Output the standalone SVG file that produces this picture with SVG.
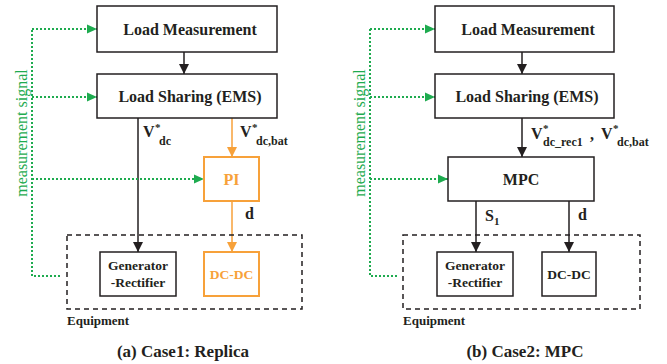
<svg xmlns="http://www.w3.org/2000/svg" width="667" height="364" viewBox="0 0 667 364" font-family="'Liberation Serif','Times New Roman',serif">
<defs>
<style>
text{font-family:"Liberation Serif","Times New Roman",serif;font-weight:bold;fill:#231f20}
.box{fill:#fff;stroke:#231f20;stroke-width:1.5}
.obox{fill:#fff;stroke:#f7a13a;stroke-width:2}
.eq{fill:none;stroke:#231f20;stroke-width:1.5;stroke-dasharray:5,4}
.blk{fill:none;stroke:#231f20;stroke-width:1.5}
.org{fill:none;stroke:#f7a13a;stroke-width:1.5}
.grn{fill:none;stroke:#1eab4f;stroke-width:2;stroke-dasharray:2,2}
.t16{font-size:16px}
.t13{font-size:13.5px}
.orgt{fill:#f7a13a}
.sig{font-weight:normal;fill:#1eab4f;font-size:16px}
</style>
<marker id="ab" markerUnits="userSpaceOnUse" markerWidth="10" markerHeight="10" refX="10" refY="5" orient="auto"><path d="M0,0 L10,5 L0,10 z" fill="#231f20"/></marker>
<marker id="ao" markerUnits="userSpaceOnUse" markerWidth="10" markerHeight="10" refX="10" refY="5" orient="auto"><path d="M0,0 L10,5 L0,10 z" fill="#f7a13a"/></marker>
<marker id="ag" markerUnits="userSpaceOnUse" markerWidth="10" markerHeight="10" refX="10" refY="5" orient="auto"><path d="M0,0.5 L10,5 L0,9.5 z" fill="#1eab4f"/></marker>
</defs>

<g id="connectors">
<line class="blk" x1="184" y1="52" x2="184" y2="74" marker-end="url(#ab)"/>
<line class="blk" x1="138" y1="118" x2="138" y2="252" marker-end="url(#ab)"/>
<line class="org" x1="232" y1="118" x2="232" y2="157" marker-end="url(#ao)"/>
<line class="org" x1="232" y1="201" x2="232" y2="252" marker-end="url(#ao)"/>
<polyline class="grn" points="60,276 32,276 32,29"/>
<line class="grn" x1="32" y1="29" x2="97" y2="29" marker-end="url(#ag)"/>
<line class="grn" x1="32" y1="97" x2="97" y2="97" marker-end="url(#ag)"/>
<line class="grn" x1="32" y1="179" x2="204" y2="179" marker-end="url(#ag)"/>
<line class="blk" x1="522" y1="52" x2="522" y2="74" marker-end="url(#ab)"/>
<line class="blk" x1="522" y1="118" x2="522" y2="157" marker-end="url(#ab)"/>
<line class="blk" x1="476" y1="201" x2="476" y2="252" marker-end="url(#ab)"/>
<line class="blk" x1="569" y1="201" x2="569" y2="252" marker-end="url(#ab)"/>
<polyline class="grn" points="397,276 370,276 370,29"/>
<line class="grn" x1="370" y1="29" x2="435" y2="29" marker-end="url(#ag)"/>
<line class="grn" x1="370" y1="97" x2="435" y2="97" marker-end="url(#ag)"/>
<line class="grn" x1="370" y1="179" x2="448" y2="179" marker-end="url(#ag)"/>
</g>

<g id="labels">
<text class="sig" transform="translate(27,133) rotate(-90)" text-anchor="middle">measurement signal</text>
<text class="sig" transform="translate(365,133) rotate(-90)" text-anchor="middle">measurement signal</text>
<text class="t16" x="143" y="137">V</text>
<text x="155" y="131" font-size="11">*</text>
<text x="159" y="145" font-size="12">dc</text>
<text class="t16" x="240" y="137">V</text>
<text x="252" y="131" font-size="11">*</text>
<text x="256" y="145" font-size="12">dc,bat</text>
<text class="t16" x="245" y="219">d</text>
<text class="t16" x="531" y="139">V</text>
<text x="543" y="132" font-size="11">*</text>
<text x="543" y="146" font-size="12">dc_rec1</text>
<text class="t16" x="590" y="140">,</text>
<text class="t16" x="601" y="139">V</text>
<text x="613" y="132" font-size="11">*</text>
<text x="617" y="146" font-size="12">dc,bat</text>
<text class="t16" x="485" y="221">S</text>
<text x="494" y="225" font-size="11">1</text>
<text class="t16" x="578" y="220">d</text>
</g>

<g id="left-load-measurement">
<rect class="box" x="97" y="6" width="180" height="46"/>
<text class="t16" x="190" y="35" text-anchor="middle">Load Measurement</text>
</g>
<g id="left-load-sharing">
<rect class="box" x="97" y="74" width="180" height="44"/>
<text class="t16" x="190" y="102" text-anchor="middle">Load Sharing (EMS)</text>
</g>
<g id="left-pi">
<rect class="obox" x="204" y="157" width="55" height="44"/>
<text class="t16 orgt" x="231.5" y="185" text-anchor="middle">PI</text>
</g>
<g id="left-equipment">
<rect class="eq" x="67" y="235" width="235" height="74"/>
<text x="67" y="325" font-size="13">Equipment</text>
</g>
<g id="left-generator">
<rect class="box" x="100" y="252" width="76" height="44"/>
<text class="t13" x="138" y="270" text-anchor="middle">Generator</text>
<text class="t13" x="138" y="287" text-anchor="middle">-Rectifier</text>
</g>
<g id="left-dcdc">
<rect class="obox" x="204" y="252" width="55" height="44"/>
<text class="t13 orgt" x="231.5" y="279" text-anchor="middle">DC-DC</text>
</g>
<text id="caption-a" x="183" y="357" font-size="17" text-anchor="middle">(a) Case1: Replica</text>

<g id="right-load-measurement">
<rect class="box" x="435" y="6" width="179" height="46"/>
<text class="t16" x="528" y="35" text-anchor="middle">Load Measurement</text>
</g>
<g id="right-load-sharing">
<rect class="box" x="435" y="74" width="179" height="44"/>
<text class="t16" x="527" y="102" text-anchor="middle">Load Sharing (EMS)</text>
</g>
<g id="right-mpc">
<rect class="box" x="448" y="157" width="146" height="44"/>
<text class="t16" x="521" y="185" text-anchor="middle">MPC</text>
</g>
<g id="right-equipment">
<rect class="eq" x="403" y="235" width="237" height="74"/>
<text x="403" y="325" font-size="13">Equipment</text>
</g>
<g id="right-generator">
<rect class="box" x="437" y="252" width="76" height="44"/>
<text class="t13" x="475" y="270" text-anchor="middle">Generator</text>
<text class="t13" x="475" y="287" text-anchor="middle">-Rectifier</text>
</g>
<g id="right-dcdc">
<rect class="box" x="542" y="252" width="54" height="44"/>
<text class="t13" x="569" y="279" text-anchor="middle">DC-DC</text>
</g>
<text id="caption-b" x="525" y="357" font-size="17" text-anchor="middle">(b) Case2: MPC</text>
</svg>
